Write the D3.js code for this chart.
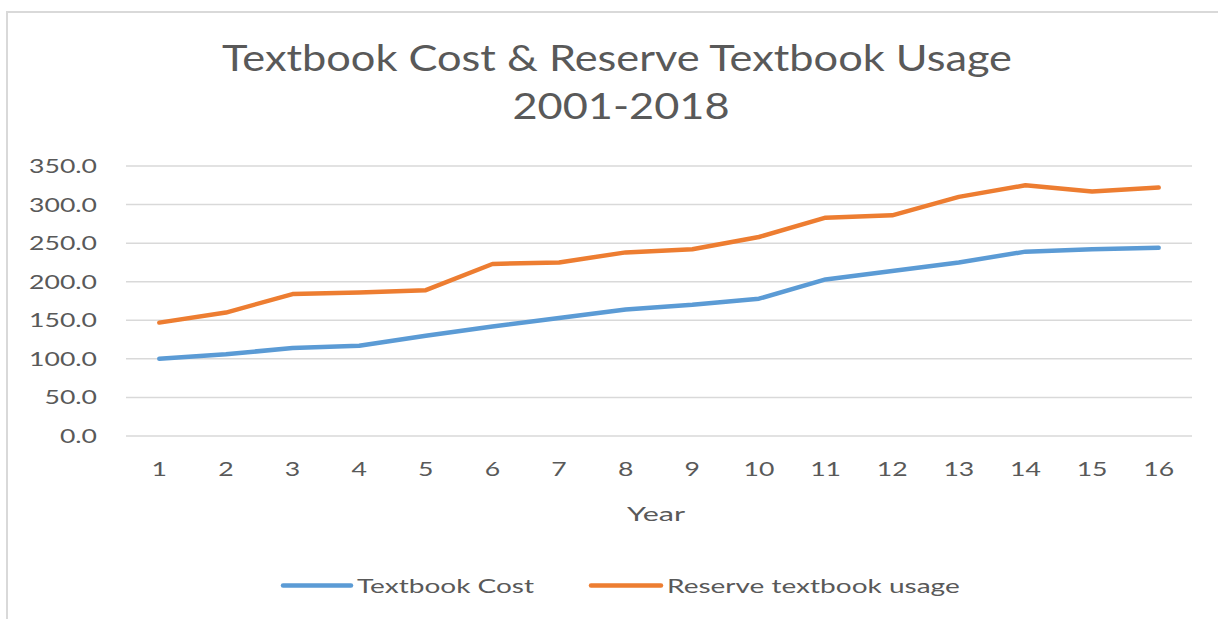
<!DOCTYPE html>
<html>
<head>
<meta charset="utf-8">
<script src="https://cdn.jsdelivr.net/npm/d3@7"></script>
<style>
  html, body { margin: 0; padding: 0; background: #fff; }
  svg { display: block; }
  text { font-family: Lato, "Open Sans", sans-serif; fill: #595959; }
</style>
</head>
<body>
<svg id="chart" width="1218" height="619"></svg>
<script>
// Series data: index of year (1..16) against cost and reserve usage
const years = [1, 2, 3, 4, 5, 6, 7, 8, 9, 10, 11, 12, 13, 14, 15, 16];
const textbookCost = [100, 106, 114, 117, 130, 142, 153, 164, 170, 178, 203, 214, 225, 239, 242, 244];
const reserveUsage = [147, 160, 184, 186, 189, 223, 225, 238, 242, 258, 283, 286, 310, 325, 317, 322];
const yTicks = [0, 50, 100, 150, 200, 250, 300, 350];
const seriesNames = ["Textbook Cost", "Reserve textbook usage"];
const titleLines = ["Textbook Cost & Reserve Textbook Usage", "2001-2018"];
const xTitle = "Year";

const svg = d3.select("#chart");
const W = 1218, H = 619;
const plot = { left: 126, right: 1192, top: 166, bottom: 436 };
const colors = ["#5B9BD5", "#ED7D31"];

// Chart frame (top and left edges)
svg.append("path")
  .attr("d", `M7,${H} V12 H${W}`)
  .attr("fill", "none")
  .attr("stroke", "#d9d9d9")
  .attr("stroke-width", 2);

const x = d3.scalePoint().domain(years).range([plot.left, plot.right]).padding(0.5);
const y = d3.scaleLinear().domain([0, 350]).range([plot.bottom, plot.top]);

// Horizontal stretch needed for a string at a size to span a given width
function stretchFor(str, size, targetWidth) {
  const probe = svg.append("text").attr("font-size", size).text(str);
  const w = probe.node().getComputedTextLength();
  probe.remove();
  return targetWidth / w;
}

// Draws text with a horizontal stretch factor
function stretchedText(parent, str, px, py, size, anchor, sx) {
  parent.append("g")
    .attr("transform", `translate(${px},${py})`)
    .append("text")
    .attr("font-size", size)
    .attr("text-anchor", anchor)
    .attr("transform", `scale(${sx},1)`)
    .text(str);
}

// Gridlines
svg.append("g")
  .selectAll("line")
  .data(yTicks)
  .join("line")
  .attr("x1", plot.left).attr("x2", plot.right)
  .attr("y1", d => y(d)).attr("y2", d => y(d))
  .attr("stroke", "#d9d9d9")
  .attr("stroke-width", 1.5);

const fmt = d3.format(".1f");

// Y-axis tick labels
const yAxisG = svg.append("g");
const tickSx = stretchFor(fmt(350), 20, 68);
yTicks.forEach(v => {
  stretchedText(yAxisG, fmt(v), 97, y(v) + 7, 20, "end", tickSx);
});

// X-axis tick labels
const xAxisG = svg.append("g");
years.forEach(v => {
  stretchedText(xAxisG, String(v), x(v), 476, 20, "middle", tickSx);
});

// X-axis title
stretchedText(svg, xTitle, 656, 521, 20, "middle", stretchFor(xTitle, 20, 58));

// Chart title
const titleSx = stretchFor(titleLines[0], 36, 790);
stretchedText(svg, titleLines[0], 617, 71, 36, "middle", titleSx);
stretchedText(svg, titleLines[1], 621, 119, 36, "middle", titleSx);

// Series lines
const line = d3.line()
  .x((d, i) => x(years[i]))
  .y(d => y(d));

[textbookCost, reserveUsage].forEach((data, i) => {
  svg.append("path")
    .datum(data)
    .attr("d", line)
    .attr("fill", "none")
    .attr("stroke", colors[i])
    .attr("stroke-width", 4.5)
    .attr("stroke-linejoin", "round")
    .attr("stroke-linecap", "round");
});

// Legend
const legendItems = [
  { x0: 283, x1: 351, tx: 357 },
  { x0: 591, x1: 661, tx: 667 }
];
const legendSx = stretchFor(seriesNames[1], 20, 293);
const legendG = svg.append("g");
legendItems.forEach((it, i) => {
  legendG.append("line")
    .attr("x1", it.x0).attr("x2", it.x1)
    .attr("y1", 585.5).attr("y2", 585.5)
    .attr("stroke", colors[i])
    .attr("stroke-width", 4.5)
    .attr("stroke-linecap", "round");
  stretchedText(legendG, seriesNames[i], it.tx, 593, 20, "start", legendSx);
});
</script>
</body>
</html>
